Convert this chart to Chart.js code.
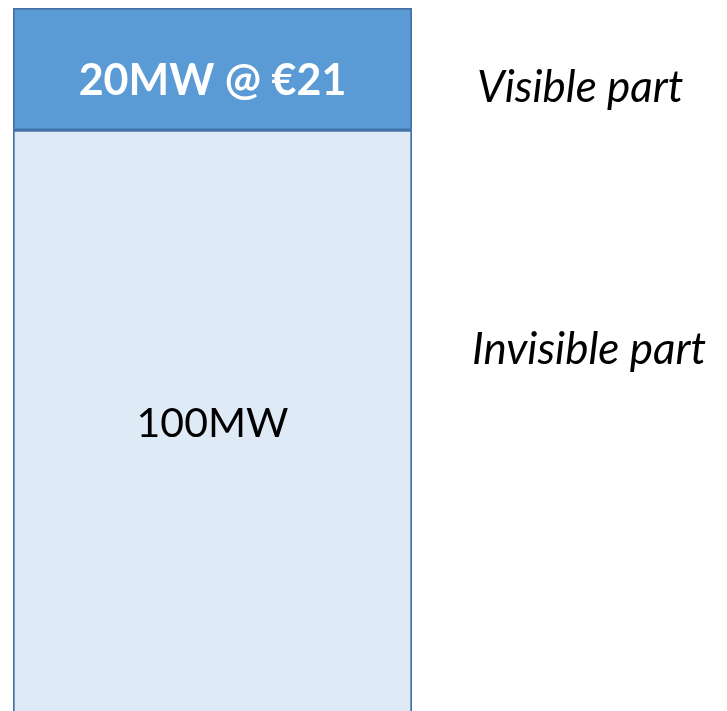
<!DOCTYPE html>
<html>
<head>
<meta charset="utf-8">
<script src="https://cdn.jsdelivr.net/npm/chart.js@4"></script>
<style>
  html, body { margin: 0; padding: 0; background: #ffffff; }
  #wrap { width: 727px; height: 711px; position: relative; overflow: hidden; }
</style>
</head>
<body>
<div id="wrap"><canvas id="c" width="727" height="711"></canvas></div>
<script>
// ---- data ----
const categories = ["Order"];
const segmentNames = ["Invisible part", "Visible part"];
const invisibleValues = [100];
const visibleValues = [20];
const barLabels = ["100MW", "20MW @ €21"];
const sideLabels = ["Invisible part", "Visible part"];

const FONT = "Lato, 'Open Sans', sans-serif";

const labelPlugin = {
  id: 'labels',
  afterDatasetsDraw(chart) {
    const ctx = chart.ctx;
    const area = chart.chartArea;
    const invis = chart.getDatasetMeta(0).data[0];
    const vis = chart.getDatasetMeta(1).data[0];
    ctx.save();
    ctx.textAlign = 'center';
    ctx.textBaseline = 'middle';
    // visible segment label
    ctx.fillStyle = '#ffffff';
    ctx.font = "bold 43px " + FONT;
    ctx.fillText(barLabels[1], vis.x, (vis.y + vis.base) / 2 + 12);
    // invisible segment label (centre of the drawn portion)
    ctx.fillStyle = '#000000';
    ctx.font = "41px " + FONT;
    const bottom = Math.min(invis.base, chart.height);
    ctx.fillText(barLabels[0], invis.x, (invis.y + bottom) / 2 + 3);
    // side labels
    ctx.font = "italic 44px " + FONT;
    ctx.textAlign = 'left';
    const sideX = area.right + 60;
    ctx.fillText(sideLabels[1], sideX + 5, (vis.y + vis.base) / 2 + 19);
    ctx.fillText(sideLabels[0], sideX, invis.y + 220);
    ctx.restore();
  }
};

new Chart(document.getElementById('c'), {
  type: 'bar',
  data: {
    labels: categories,
    datasets: [
      {
        label: segmentNames[0],
        data: invisibleValues,
        backgroundColor: '#DEEAF6',
        borderColor: '#4472A8',
        borderWidth: 2,
        borderSkipped: false
      },
      {
        label: segmentNames[1],
        data: visibleValues,
        backgroundColor: '#5B9BD5',
        borderColor: '#4472A8',
        borderWidth: 2,
        borderSkipped: false
      }
    ]
  },
  plugins: [labelPlugin],
  options: {
    responsive: false,
    animation: false,
    layout: { padding: { left: 13, right: 315, top: 8, bottom: 0 } },
    datasets: { bar: { barPercentage: 1, categoryPercentage: 1 } },
    plugins: { legend: { display: false }, tooltip: { enabled: false } },
    scales: {
      x: { stacked: true, display: false },
      y: { stacked: true, display: false, min: 4.8, max: 120 }
    }
  }
});
</script>
</body>
</html>
